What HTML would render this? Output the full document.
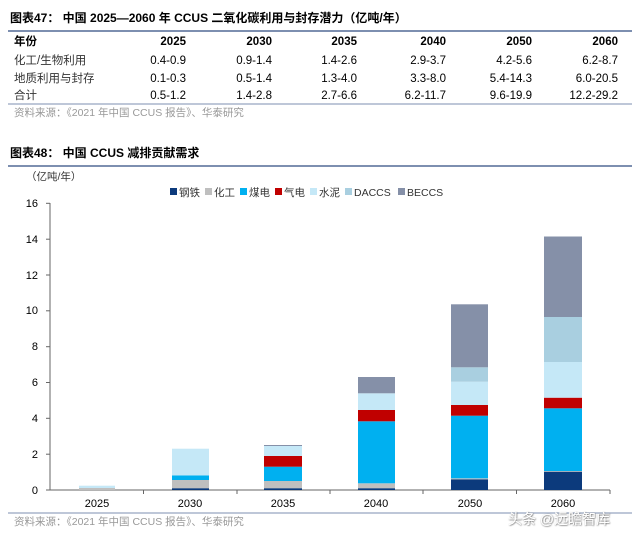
<!DOCTYPE html><html><head><meta charset="utf-8"><style>
body{margin:0;background:#fff}
svg text{font-family:"Liberation Sans","Noto Sans CJK SC",sans-serif}
</style></head><body>
<svg width="640" height="540" xmlns="http://www.w3.org/2000/svg">
<defs><filter id="sh" x="-10%" y="-30%" width="120%" height="160%"><feDropShadow dx="0.5" dy="0.5" stdDeviation="0.8" flood-color="#333" flood-opacity="0.9"/></filter></defs>
<g font-size="11.5" fill="#000">
<text x="10" y="22" font-weight="bold" font-size="12">图表47：  中国 2025—2060 年 CCUS 二氧化碳利用与封存潜力（亿吨/年）</text>
<line x1="8" y1="31" x2="632" y2="31" stroke="#7d8fb0" stroke-width="2"/>
<text x="14" y="45" font-weight="bold">年份</text>
<g text-anchor="end" font-weight="bold"><text x="186" y="45">2025</text><text x="272" y="45">2030</text><text x="357" y="45">2035</text><text x="446" y="45">2040</text><text x="532" y="45">2050</text><text x="618" y="45">2060</text></g>
<text x="14" y="64" fill="#333">化工/生物利用</text>
<g text-anchor="end"><text x="186" y="64">0.4-0.9</text><text x="272" y="64">0.9-1.4</text><text x="357" y="64">1.4-2.6</text><text x="446" y="64">2.9-3.7</text><text x="532" y="64">4.2-5.6</text><text x="618" y="64">6.2-8.7</text></g>
<text x="14" y="82" fill="#333">地质利用与封存</text>
<g text-anchor="end"><text x="186" y="82">0.1-0.3</text><text x="272" y="82">0.5-1.4</text><text x="357" y="82">1.3-4.0</text><text x="446" y="82">3.3-8.0</text><text x="532" y="82">5.4-14.3</text><text x="618" y="82">6.0-20.5</text></g>
<text x="14" y="99" fill="#333">合计</text>
<g text-anchor="end"><text x="186" y="99">0.5-1.2</text><text x="272" y="99">1.4-2.8</text><text x="357" y="99">2.7-6.6</text><text x="446" y="99">6.2-11.7</text><text x="532" y="99">9.6-19.9</text><text x="618" y="99">12.2-29.2</text></g>
<line x1="8" y1="104" x2="632" y2="104" stroke="#7d8fb0" stroke-width="1"/>
<text x="14" y="116" fill="#999" font-size="10.5">资料来源：《2021 年中国 CCUS 报告》、华泰研究</text>

<text x="10" y="157" font-weight="bold" font-size="12">图表48：  中国 CCUS 减排贡献需求</text>
<line x1="8" y1="166" x2="632" y2="166" stroke="#7d8fb0" stroke-width="2"/>
<text x="26" y="180" font-size="10.5" fill="#333">（亿吨/年）</text>
</g>
<g font-size="10.5" fill="#333">
<rect x="170" y="188" width="7" height="7" fill="#0c3a7c"/><text x="179" y="196">钢铁</text>
<rect x="205" y="188" width="7" height="7" fill="#bfbfbf"/><text x="214" y="196">化工</text>
<rect x="240" y="188" width="7" height="7" fill="#00b0f0"/><text x="249" y="196">煤电</text>
<rect x="275" y="188" width="7" height="7" fill="#c00000"/><text x="284" y="196">气电</text>
<rect x="310" y="188" width="7" height="7" fill="#c5e8f7"/><text x="319" y="196">水泥</text>
<rect x="345" y="188" width="7" height="7" fill="#a9cfe0"/><text x="354" y="196">DACCS</text>
<rect x="398" y="188" width="7" height="7" fill="#8590a8"/><text x="407" y="196">BECCS</text>
</g>
<g font-size="11" fill="#000" text-anchor="end">
<text x="38" y="207">16</text><text x="38" y="243">14</text><text x="38" y="279">12</text><text x="38" y="314">10</text><text x="38" y="350">8</text><text x="38" y="386">6</text><text x="38" y="422">4</text><text x="38" y="458">2</text><text x="38" y="494">0</text>
</g>
<g stroke="#666" stroke-width="1">
<line x1="50" y1="203" x2="50" y2="490"/>
<line x1="46" y1="203.3" x2="50" y2="203.3"/><line x1="46" y1="239.2" x2="50" y2="239.2"/><line x1="46" y1="275" x2="50" y2="275"/><line x1="46" y1="310.8" x2="50" y2="310.8"/><line x1="46" y1="346.7" x2="50" y2="346.7"/><line x1="46" y1="382.5" x2="50" y2="382.5"/><line x1="46" y1="418.3" x2="50" y2="418.3"/><line x1="46" y1="454.2" x2="50" y2="454.2"/>
<line x1="46" y1="490" x2="610" y2="490"/>
<line x1="143.5" y1="490" x2="143.5" y2="494"/><line x1="237" y1="490" x2="237" y2="494"/><line x1="330" y1="490" x2="330" y2="494"/><line x1="423" y1="490" x2="423" y2="494"/><line x1="516.5" y1="490" x2="516.5" y2="494"/><line x1="610" y1="490" x2="610" y2="494"/>
</g>
<g>
<rect x="79" y="488" width="36" height="2" fill="#bfbfbf"/>
<rect x="79" y="485.7" width="36" height="2.3" fill="#c5e8f7"/>
<rect x="172" y="488.2" width="37" height="1.8" fill="#0c3a7c"/>
<rect x="172" y="480" width="37" height="8.2" fill="#bfbfbf"/>
<rect x="172" y="475.5" width="37" height="4.5" fill="#00b0f0"/>
<rect x="172" y="448.7" width="37" height="26.8" fill="#c5e8f7"/>
<rect x="264" y="488.2" width="38" height="1.8" fill="#0c3a7c"/>
<rect x="264" y="481" width="38" height="7.2" fill="#bfbfbf"/>
<rect x="264" y="466.7" width="38" height="14.3" fill="#00b0f0"/>
<rect x="264" y="456" width="38" height="10.7" fill="#c00000"/>
<rect x="264" y="446" width="38" height="10" fill="#c5e8f7"/>
<rect x="264" y="445" width="38" height="1" fill="#8590a8"/>
<rect x="358" y="488.2" width="37" height="1.8" fill="#0c3a7c"/>
<rect x="358" y="483.3" width="37" height="4.9" fill="#bfbfbf"/>
<rect x="358" y="421.3" width="37" height="62" fill="#00b0f0"/>
<rect x="358" y="410" width="37" height="11.3" fill="#c00000"/>
<rect x="358" y="393.3" width="37" height="16.7" fill="#c5e8f7"/>
<rect x="358" y="377" width="37" height="16.3" fill="#8590a8"/>
<rect x="451" y="479.3" width="37" height="10.7" fill="#0c3a7c"/>
<rect x="451" y="478.3" width="37" height="1" fill="#bfbfbf"/>
<rect x="451" y="415.7" width="37" height="62.6" fill="#00b0f0"/>
<rect x="451" y="405" width="37" height="10.7" fill="#c00000"/>
<rect x="451" y="381.7" width="37" height="23.3" fill="#c5e8f7"/>
<rect x="451" y="367.3" width="37" height="14.4" fill="#a9cfe0"/>
<rect x="451" y="304.3" width="37" height="63" fill="#8590a8"/>
<rect x="544" y="471.7" width="38" height="18.3" fill="#0c3a7c"/>
<rect x="544" y="471" width="38" height="0.7" fill="#bfbfbf"/>
<rect x="544" y="408.3" width="38" height="62.7" fill="#00b0f0"/>
<rect x="544" y="397.7" width="38" height="10.6" fill="#c00000"/>
<rect x="544" y="362" width="38" height="35.7" fill="#c5e8f7"/>
<rect x="544" y="317" width="38" height="45" fill="#a9cfe0"/>
<rect x="544" y="236.5" width="38" height="80.5" fill="#8590a8"/>
</g>
<g font-size="11" fill="#000" text-anchor="middle">
<text x="97" y="507">2025</text><text x="190" y="507">2030</text><text x="283" y="507">2035</text><text x="376" y="507">2040</text><text x="470" y="507">2050</text><text x="563" y="507">2060</text>
</g>
<line x1="8" y1="513" x2="632" y2="513" stroke="#7d8fb0" stroke-width="1"/>
<text x="14" y="525" font-size="10.5" fill="#999">资料来源：《2021 年中国 CCUS 报告》、华泰研究</text>
<text x="508" y="524" font-size="14" fill="#fff" filter="url(#sh)">头条 @远瞻智库</text>
</svg>
</body></html>
